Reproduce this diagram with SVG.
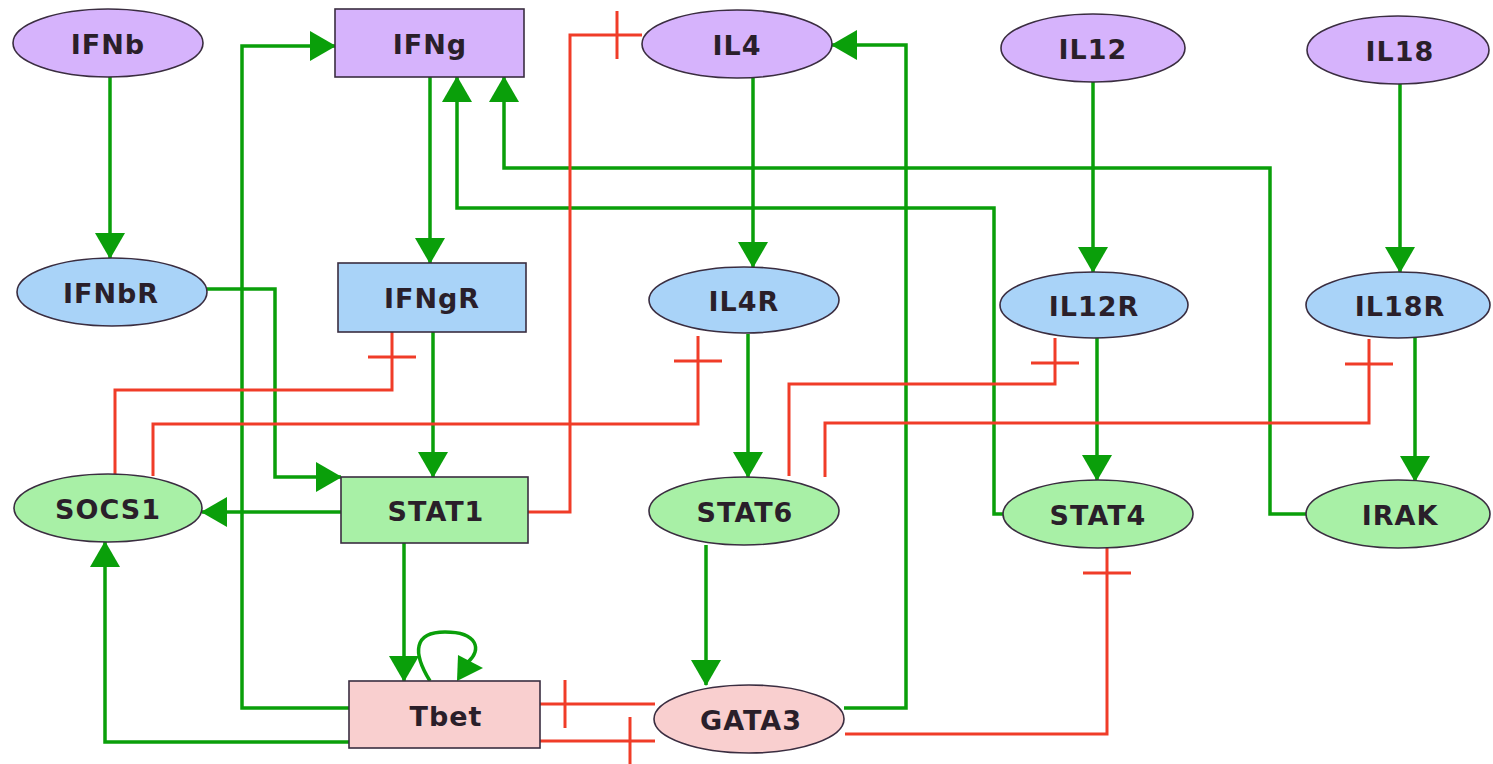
<svg xmlns="http://www.w3.org/2000/svg" width="1493" height="764" viewBox="0 0 1493 764">
  <style>
    .lbl { font-family: "DejaVu Sans", "Liberation Sans", sans-serif; font-weight: bold; font-size: 27px; letter-spacing: 1px; fill: #2a1f2a; text-anchor: middle; }
    .node { stroke: #3a2d40; stroke-width: 1.6; }
    .ligand { fill: #d6b3fc; }
    .receptor { fill: #a9d3f8; }
    .tf { fill: #a8f0a6; }
    .master { fill: #f9cfcf; }
    .act { fill: none; stroke: #0a9f0a; stroke-width: 3.5; marker-end: url(#arrow); }
    .inh { fill: none; stroke: #f03c28; stroke-width: 3; marker-end: url(#tee); }
  </style>
  <defs>
    <marker id="arrow" markerUnits="userSpaceOnUse" markerWidth="26" markerHeight="30" viewBox="0 0 26 30" refX="25" refY="15" orient="auto" overflow="visible">
      <path d="M0,0 L26,15 L0,30 z" fill="#0a9f0a"/>
    </marker>
    <marker id="tee" markerUnits="userSpaceOnUse" markerWidth="30" markerHeight="50" viewBox="0 0 30 50" refX="29" refY="25" orient="auto" overflow="visible">
      <path d="M4,1 V49" stroke="#f03c28" stroke-width="3"/>
    </marker>
  </defs>
  <rect width="1493" height="764" fill="#ffffff"/>

  <!-- connectors -->
  <g id="connectors">
    <!-- activations -->
    <path class="act" d="M110,77 V258"/>
    <path class="act" d="M349,708 H242 V46 H335"/>
    <path class="act" d="M430,77 V263"/>
    <path class="act" d="M753,78 V267"/>
    <path class="act" d="M1003,514 H994 V208 H457 V77"/>
    <path class="act" d="M1306,514 H1270 V168 H504 V77"/>
    <path class="act" d="M844,708 H906 V45 H832"/>
    <path class="act" d="M1093,82 V272"/>
    <path class="act" d="M1400,84 V272"/>
    <path class="act" d="M207,289 H275 V477 H341"/>
    <path class="act" d="M433,332 V477"/>
    <path class="act" d="M341,512 H202"/>
    <path class="act" d="M748,334 V477"/>
    <path class="act" d="M1097,338 V480"/>
    <path class="act" d="M1415,338 V481"/>
    <path class="act" d="M404,543 V681"/>
    <path class="act" d="M349,742 H105 V542"/>
    <path class="act" d="M706,545 V685"/>
    <!-- Tbet self-activation -->
    <path d="M430,681 C412,652 414,632 445,632 C478,632 482,650 468,662" fill="none" stroke="#0a9f0a" stroke-width="3.5"/>
    <polygon points="458,655 483,668 457,681" fill="#0a9f0a"/>
    <!-- inhibitions -->
    <path class="inh" d="M528,512 H570 V35 H642"/>
    <path class="inh" d="M115,474 V390 H392 V332"/>
    <path class="inh" d="M153,476 V424 H698 V336"/>
    <path class="inh" d="M789,476 V384 H1055 V338"/>
    <path class="inh" d="M825,477 V423 H1369 V339"/>
    <path class="inh" d="M655,704 H540"/>
    <path class="inh" d="M540,741 H655"/>
    <path class="inh" d="M845,734 H1107 V548"/>
  </g>

  <!-- ligands -->
  <g id="IFNb"><ellipse class="node ligand" cx="108" cy="43" rx="95" ry="34"/><text class="lbl" x="108" y="54">IFNb</text></g>
  <g id="IFNg"><rect class="node ligand" x="335" y="9" width="189" height="68"/><text class="lbl" x="430" y="54">IFNg</text></g>
  <g id="IL4"><ellipse class="node ligand" cx="737" cy="44" rx="95" ry="34"/><text class="lbl" x="737" y="55">IL4</text></g>
  <g id="IL12"><ellipse class="node ligand" cx="1093" cy="48" rx="92" ry="34"/><text class="lbl" x="1093" y="59">IL12</text></g>
  <g id="IL18"><ellipse class="node ligand" cx="1398" cy="50" rx="91" ry="34"/><text class="lbl" x="1400" y="61">IL18</text></g>

  <!-- receptors -->
  <g id="IFNbR"><ellipse class="node receptor" cx="112" cy="292" rx="95" ry="34"/><text class="lbl" x="111" y="303">IFNbR</text></g>
  <g id="IFNgR"><rect class="node receptor" x="338" y="263" width="188" height="69"/><text class="lbl" x="432" y="308">IFNgR</text></g>
  <g id="IL4R"><ellipse class="node receptor" cx="744" cy="300" rx="95" ry="33"/><text class="lbl" x="744" y="311">IL4R</text></g>
  <g id="IL12R"><ellipse class="node receptor" cx="1094" cy="305" rx="94" ry="33"/><text class="lbl" x="1094" y="316">IL12R</text></g>
  <g id="IL18R"><ellipse class="node receptor" cx="1398" cy="305" rx="92" ry="33"/><text class="lbl" x="1400" y="316">IL18R</text></g>

  <!-- signal transducers -->
  <g id="SOCS1"><ellipse class="node tf" cx="108" cy="508" rx="94" ry="34"/><text class="lbl" x="108" y="519">SOCS1</text></g>
  <g id="STAT1"><rect class="node tf" x="341" y="477" width="187" height="66"/><text class="lbl" x="436" y="521">STAT1</text></g>
  <g id="STAT6"><ellipse class="node tf" cx="744" cy="511" rx="95" ry="34"/><text class="lbl" x="745" y="522">STAT6</text></g>
  <g id="STAT4"><ellipse class="node tf" cx="1098" cy="514" rx="95" ry="34"/><text class="lbl" x="1098" y="525">STAT4</text></g>
  <g id="IRAK"><ellipse class="node tf" cx="1398" cy="514" rx="92" ry="34"/><text class="lbl" x="1400" y="525">IRAK</text></g>

  <!-- master regulators -->
  <g id="Tbet"><rect class="node master" x="349" y="681" width="191" height="67"/><text class="lbl" x="446" y="726">Tbet</text></g>
  <g id="GATA3"><ellipse class="node master" cx="749" cy="719" rx="95" ry="34"/><text class="lbl" x="751" y="730">GATA3</text></g>
</svg>
